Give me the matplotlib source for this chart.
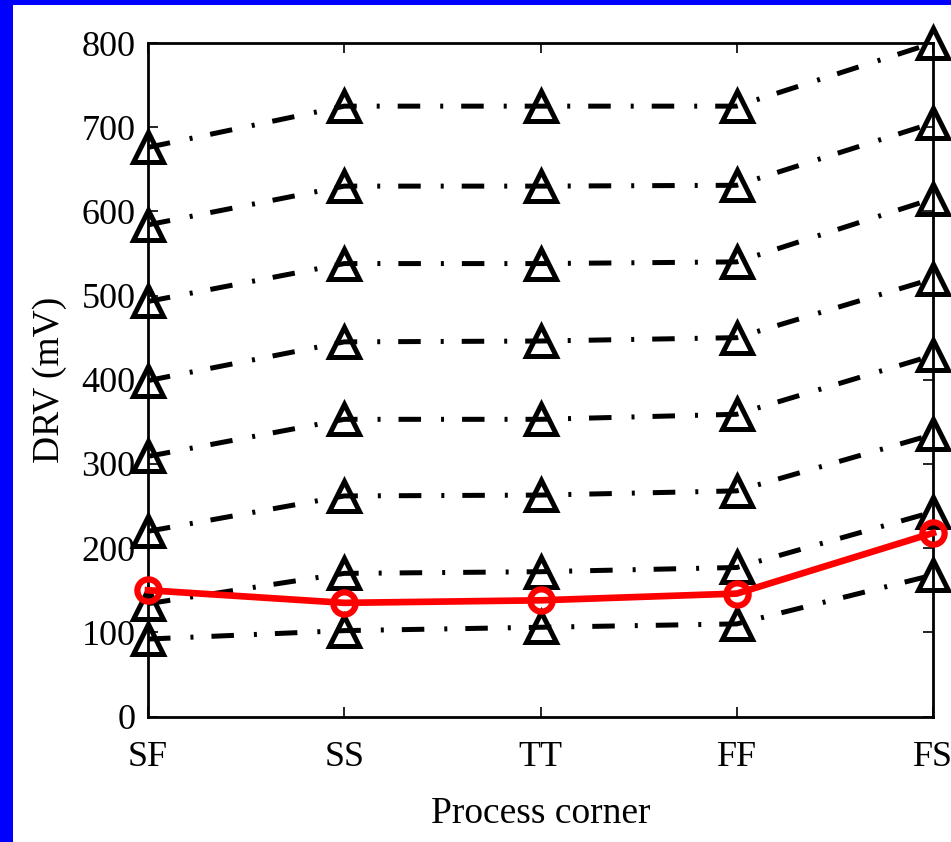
import matplotlib
matplotlib.use("Agg")
import matplotlib.pyplot as plt
from matplotlib.patches import Rectangle

# process corners on the x axis
corners = ["SF", "SS", "TT", "FF", "FS"]

# DRV (mV) of the dash-dot curves, top to bottom
drv_1 = [676, 725, 725, 725, 800]
drv_2 = [584, 630, 630, 631, 705]
drv_3 = [493, 538, 538, 540, 615]
drv_4 = [399, 445, 446, 450, 520]
drv_5 = [309, 353, 353, 359, 429]
drv_6 = [220, 262, 263, 268, 335]
drv_7 = [134, 170, 172, 177, 243]
drv_8 = [92, 102, 106, 110, 168]
dashed_series = [drv_1, drv_2, drv_3, drv_4, drv_5, drv_6, drv_7, drv_8]

# red solid curve
drv_red = [150, 135, 138, 146, 218]

y_ticks = [0, 100, 200, 300, 400, 500, 600, 700, 800]

plt.rcParams['font.family'] = ['Liberation Serif', 'DejaVu Serif']

fig = plt.figure(figsize=(9.51, 8.42), dpi=100)
fig.patch.set_facecolor("white")
# blue frame on the left and top edges
fig.patches.append(Rectangle((0, 0), 13 / 951, 1, transform=fig.transFigure,
                             facecolor="#0000FF", edgecolor="none"))
fig.patches.append(Rectangle((0, 1 - 5 / 842), 1, 5 / 842, transform=fig.transFigure,
                             facecolor="#0000FF", edgecolor="none"))

ax = fig.add_axes([148 / 951, 1 - 716.5 / 842, (933 - 148) / 951, (716.5 - 43) / 842])

x = list(range(len(corners)))
dashdot = (0, (4.5, 4.0, 0.6, 3.6))
for s in dashed_series:
    ax.plot(x, s, color="black", linestyle=dashdot, linewidth=3.6,
            dash_capstyle="butt", marker="^", markersize=21,
            markerfacecolor="none", markeredgecolor="black",
            markeredgewidth=3.6, clip_on=False, zorder=3)

ax.plot(x, drv_red, color="#FF0000", linestyle="-", linewidth=4.8,
        marker="o", markersize=16, markerfacecolor="none",
        markeredgecolor="#FF0000", markeredgewidth=4.5, clip_on=False, zorder=4)

ax.set_xlim(0, 4)
ax.set_ylim(0, 800)
ax.set_xticks(x)
ax.set_xticklabels(corners)
ax.set_yticks(y_ticks)
ax.tick_params(direction="in", length=7, width=1.2, labelsize=26,
               top=True, right=True)
ax.tick_params(axis="y", pad=9)
ax.tick_params(axis="x", pad=18)
for sp in ax.spines.values():
    sp.set_linewidth(2)

ax.set_xlabel("Process corner", fontsize=27, labelpad=16)
ax.set_ylabel("DRV (mV)", fontsize=27, labelpad=10)

fig.savefig("out.png", dpi=100)
